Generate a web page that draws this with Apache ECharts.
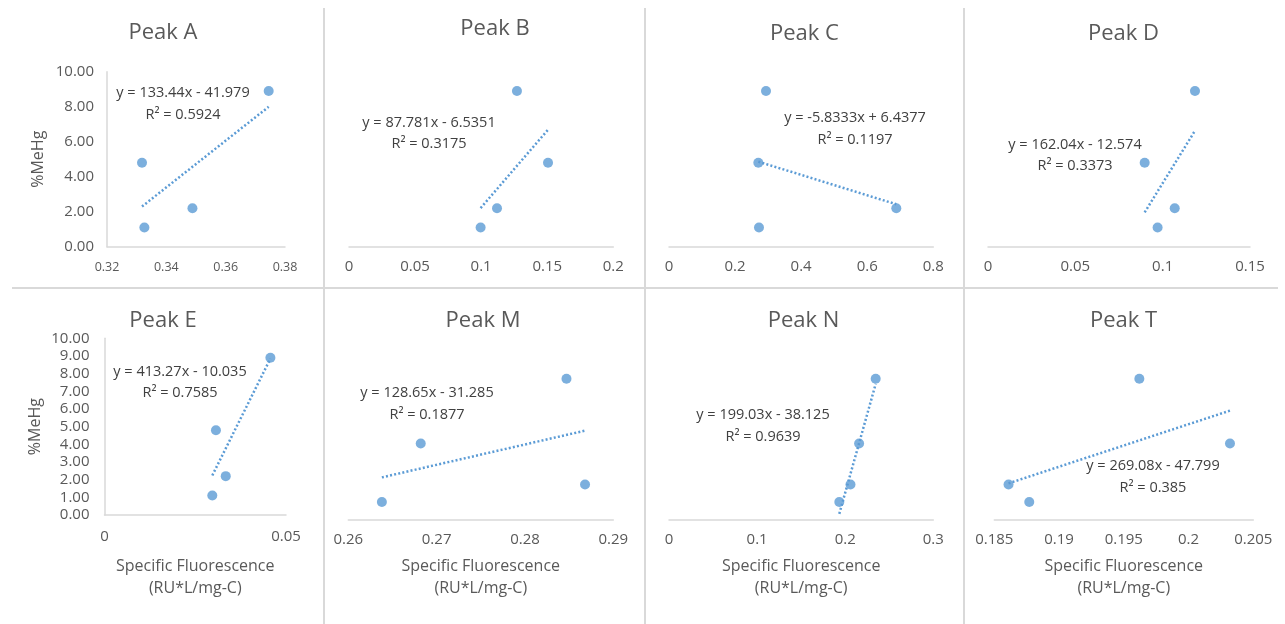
<!DOCTYPE html>
<html>
<head>
<meta charset="utf-8">
<title>%MeHg vs specific fluorescence</title>
<script src="https://cdn.jsdelivr.net/npm/echarts@6/dist/echarts.min.js"></script>
<style>
  html, body { margin: 0; padding: 0; background: #fff; }
  #chart { width: 1285px; height: 624px; }
</style>
</head>
<body>
<div id="chart"></div>
<script>
// panels, left to right, top row then bottom row
var peaks = ['Peak A', 'Peak B', 'Peak C', 'Peak D', 'Peak E', 'Peak M', 'Peak N', 'Peak T'];

// %MeHg of the four samples (same samples in every panel)
var meHg = [8.9, 4.8, 2.2, 1.1];

// specific fluorescence (RU*L/mg-C) of those four samples, per peak
var peakA = [0.3745, 0.3318, 0.3488, 0.3326];
var peakB = [0.1271, 0.1506, 0.1120, 0.0996];
var peakC = [0.2936, 0.2704, 0.6880, 0.2724];
var peakD = [0.1185, 0.0897, 0.1069, 0.0971];
var peakE = [0.0457, 0.0307, 0.0334, 0.0297];
var peakM = [0.2847, 0.2682, 0.2868, 0.2638];
var peakN = [0.2346, 0.2158, 0.2060, 0.1933];
var peakT = [0.1962, 0.2032, 0.1861, 0.1877];
var fluor = [peakA, peakB, peakC, peakD, peakE, peakM, peakN, peakT];

// linear trendlines as printed on each panel
var slopes = [133.44, 87.781, -5.8333, 162.04, 413.27, 128.65, 199.03, 269.08];
var intercepts = [-41.979, -6.5351, 6.4377, -12.574, -10.035, -31.285, -38.125, -47.799];
var rSquared = [0.5924, 0.3175, 0.1197, 0.3373, 0.7585, 0.1877, 0.9639, 0.385];

// x axis ticks
var xMin = [0.32, 0, 0, 0, 0, 0.26, 0, 0.185];
var xMax = [0.38, 0.2, 0.8, 0.15, 0.05, 0.29, 0.3, 0.205];
var xStep = [0.02, 0.05, 0.2, 0.05, 0.05, 0.01, 0.1, 0.005];
// y axis ticks (labels only drawn on Peak A and Peak E)
var yMax = 10;
var yStep = [2, 2, 2, 2, 1, 2, 2, 2];

// where each panel sits on the page
var boxes = [
  {left: 107,   top: 71.7,  width: 178,   height: 175,   title: [163, 33],    eq: [183, 104],   yLabels: true,  xFont: 12.5, xMargin: 14},
  {left: 349,   top: 71.7,  width: 264.3, height: 175,   title: [495, 29],    eq: [429, 133.3], yLabels: false, xFont: 15, xMargin: 13},
  {left: 669,   top: 71.7,  width: 264.3, height: 175,   title: [804.5, 33.5],eq: [855, 129],   yLabels: false, xFont: 15, xMargin: 13},
  {left: 988,   top: 71.7,  width: 262,   height: 175,   title: [1123.5, 33.5], eq: [1075, 155.3], yLabels: false, xFont: 15, xMargin: 13},
  {left: 104.5, top: 338.3, width: 181.5, height: 176.7, title: [163, 320.5], eq: [180, 382.2], yLabels: true,  xFont: 15, xMargin: 14},
  {left: 348.3, top: 361.3, width: 265,   height: 158,   title: [483, 321],   eq: [427, 404],   yLabels: false, xFont: 15, xMargin: 13},
  {left: 669,   top: 361.3, width: 264.3, height: 158,   title: [803.5, 321], eq: [763, 426],   yLabels: false, xFont: 15, xMargin: 13},
  {left: 994.3, top: 361.3, width: 259,   height: 158,   title: [1123.5, 321], eq: [1153, 477], yLabels: false, xFont: 15, xMargin: 13}
];

var FONT = '"Open Sans", "Noto Sans", sans-serif';
var BLUE = '#5b9bd5';
var GREY = '#595959';
var RULE = '#d9d9d9';

var grids = [], xAxes = [], yAxes = [], series = [], graphics = [];

function fmt(v) { return String(+v.toFixed(4)); }

peaks.forEach(function (name, i) {
  var b = boxes[i];
  grids.push({left: b.left, top: b.top, width: b.width, height: b.height});

  xAxes.push({
    type: 'value', gridIndex: i,
    min: xMin[i], max: xMax[i], interval: xStep[i],
    axisLine: {show: true, lineStyle: {color: RULE, width: 1.5}},
    axisTick: {show: false},
    splitLine: {show: false},
    axisLabel: {color: GREY, fontSize: b.xFont, fontFamily: FONT, margin: b.xMargin, formatter: fmt}
  });

  yAxes.push({
    type: 'value', gridIndex: i,
    min: 0, max: yMax, interval: yStep[i],
    axisLine: {show: b.yLabels, lineStyle: {color: RULE, width: 1.5}},
    axisTick: {show: false},
    splitLine: {show: false},
    axisLabel: {show: b.yLabels, color: GREY, fontSize: 15, fontFamily: FONT,
      margin: i === 4 ? 15 : 13, formatter: function (v) { return v.toFixed(2); }}
  });

  var xs = fluor[i];
  var pts = xs.map(function (x, k) { return [x, meHg[k]]; });
  var lo = Math.min.apply(null, xs), hi = Math.max.apply(null, xs);

  series.push({
    type: 'line', xAxisIndex: i, yAxisIndex: i,
    data: [[lo, slopes[i] * lo + intercepts[i]], [hi, slopes[i] * hi + intercepts[i]]],
    symbol: 'none', silent: true, z: 2,
    lineStyle: {color: BLUE, width: 2.5, type: [2, 2.2]}
  });
  series.push({
    type: 'scatter', xAxisIndex: i, yAxisIndex: i,
    data: pts, symbolSize: 10, z: 3,
    itemStyle: {color: BLUE}
  });

  // panel title
  graphics.push({type: 'text', x: b.title[0], y: b.title[1], style: {
    text: name, fill: GREY, fontSize: 22, fontFamily: FONT, align: 'center', verticalAlign: 'middle'}});

  // trendline equation
  var eq = 'y = ' + slopes[i] + 'x ' + (intercepts[i] < 0 ? '- ' : '+ ') + Math.abs(intercepts[i]) +
           '\nR\u00b2 = ' + rSquared[i];
  graphics.push({type: 'text', x: b.eq[0], y: b.eq[1], style: {
    text: eq, fill: '#404040', fontSize: 14.5, lineHeight: 21.5, fontFamily: FONT,
    align: 'center', verticalAlign: 'middle'}});

  // axis titles
  if (b.yLabels) {
    graphics.push({type: 'text', x: i === 4 ? 35 : 38.3, y: b.top + b.height / 2, rotation: Math.PI / 2, style: {
      text: '%MeHg', fill: GREY, fontSize: 16, fontFamily: FONT, align: 'center', verticalAlign: 'middle'}});
  }
  if (i >= 4) {
    graphics.push({type: 'text', x: b.left + b.width / 2, y: 577.5, style: {
      text: 'Specific Fluorescence\n(RU*L/mg-C)', fill: GREY, fontSize: 16, lineHeight: 21.5,
      fontFamily: FONT, align: 'center', verticalAlign: 'middle'}});
  }
});

// thin rules between the eight charts
[324, 645, 964].forEach(function (x) {
  graphics.push({type: 'line', shape: {x1: x, y1: 8, x2: x, y2: 624}, style: {stroke: RULE, lineWidth: 2}, silent: true});
});
graphics.push({type: 'line', shape: {x1: 12, y1: 288, x2: 1278, y2: 288}, style: {stroke: RULE, lineWidth: 2}, silent: true});

var chart = echarts.init(document.getElementById('chart'));
chart.setOption({
  animation: false,
  textStyle: {fontFamily: FONT},
  grid: grids,
  xAxis: xAxes,
  yAxis: yAxes,
  series: series,
  graphic: graphics
});
</script>
</body>
</html>
